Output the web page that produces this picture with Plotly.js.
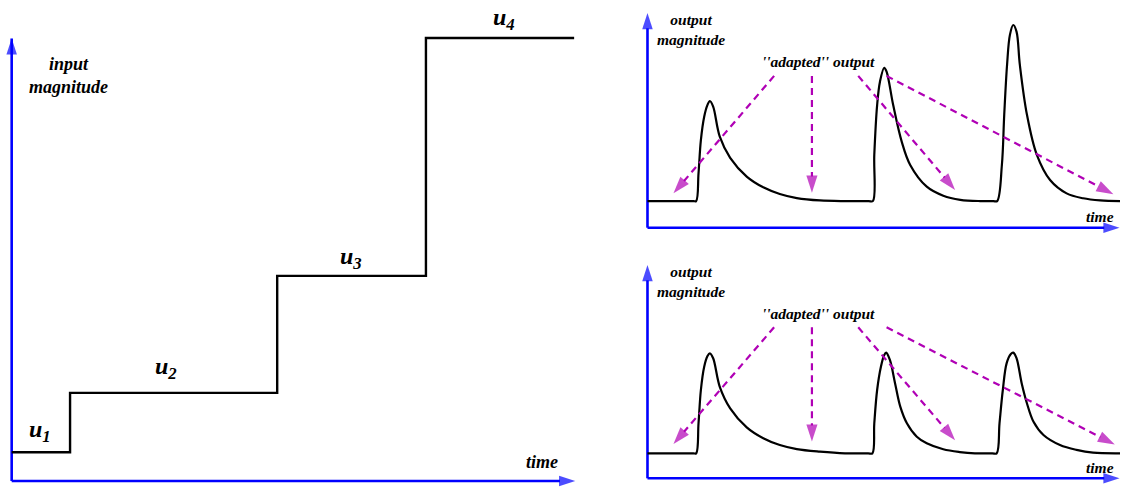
<!DOCTYPE html>
<html>
<head>
<meta charset="utf-8">
<script src="https://cdn.plot.ly/plotly-3.0.1.min.js"></script>
<style>html,body{margin:0;padding:0;background:#fff;}#chart{width:1121px;height:487px;}</style>
</head>
<body>
<div id="chart"></div>
<script>
// ---------- data ----------
// Left panel: step input
const stepTimes  = [0, 1.04, 4.73, 7.38, 10.02];
const stepLevels = [0.65, 1.99, 4.63, 10.0, 10.0];
const stepNames  = ['1', '2', '3', '4'];

// Top-right panel: non-adapted output (peaks grow with step size)
const topTime = [0, 0.97, 1.03, 1.08, 1.13, 1.20, 1.27, 1.32, 1.39, 1.53, 1.75, 2.10, 2.45, 2.80, 3.16, 3.65, 4.18,
  4.68, 4.77, 4.80, 4.86, 4.92, 5.01, 5.06, 5.20, 5.38, 5.56, 5.91, 6.26, 6.62, 7.04,
  7.32, 7.40, 7.50, 7.55, 7.61, 7.67, 7.74, 7.81, 7.88, 8.03, 8.24, 8.52, 8.87, 9.22, 9.58, 10.0];
const topOutput = [1.24, 1.24, 1.24, 2.53, 4.08, 5.17, 5.72, 5.90, 5.64, 4.24, 3.25, 2.38, 1.88, 1.57, 1.38, 1.27, 1.24,
  1.24, 1.24, 3.39, 5.71, 6.80, 7.45, 7.27, 5.71, 4.01, 2.92, 1.91, 1.49, 1.30, 1.24,
  1.24, 1.24, 2.92, 5.27, 7.59, 8.98, 9.44, 9.13, 7.59, 5.27, 3.39, 2.22, 1.60, 1.37, 1.27, 1.24];

// Bottom-right panel: output with equal peaks
const bottomTime = [0, 0.97, 1.03, 1.08, 1.13, 1.20, 1.27, 1.32, 1.39, 1.53, 1.75, 2.10, 2.45, 2.80, 3.16, 3.65, 4.18,
  4.67, 4.76, 4.80, 4.86, 4.94, 5.01, 5.05, 5.13, 5.24, 5.35, 5.49, 5.70, 5.91, 6.26, 6.61, 6.93,
  7.30, 7.39, 7.45, 7.52, 7.60, 7.69, 7.74, 7.81, 7.92, 8.03, 8.17, 8.38, 8.73, 9.08, 9.43, 10.0];
const bottomOutput = [1.17, 1.17, 1.17, 2.58, 4.14, 5.23, 5.73, 5.86, 5.63, 4.29, 3.28, 2.39, 1.88, 1.56, 1.37, 1.25, 1.17,
  1.17, 1.17, 2.58, 4.14, 5.23, 5.78, 5.89, 5.55, 4.45, 3.36, 2.58, 1.95, 1.64, 1.36, 1.23, 1.17,
  1.17, 1.17, 2.58, 4.14, 5.39, 5.83, 5.89, 5.63, 4.45, 3.52, 2.65, 2.03, 1.56, 1.33, 1.20, 1.17];

// "adapted" output pointer arrows (start -> end)
const topArrowStartT = [2.68, 3.48, 4.46, 5.06];
const topArrowStartM = [7.07, 7.07, 7.07, 7.07];
const topArrowEndT   = [0.55, 3.48, 6.51, 9.86];
const topArrowEndM   = [1.60, 1.63, 1.76, 1.56];
const botArrowStartT = [2.68, 3.48, 4.46, 5.06];
const botArrowStartM = [7.08, 7.08, 7.08, 7.08];
const botArrowEndT   = [0.55, 3.48, 6.51, 9.89];
const botArrowEndM   = [1.61, 1.72, 1.78, 1.58];

// axis extents (arrow tips)
const leftAxisEnd = {t: 10.04, m: 9.99};
const rightAxisEnd = {t: 9.99, m: 10.0};

// ---------- styles ----------
const BLUE = '#0000ff';
const MAG = '#b000b5';
const SERIF = "'Liberation Serif', 'Times New Roman', Times, serif";

const traces = [];

function axisArrows(xa, ya, tEnd, mEnd) {
  const mk = {symbol: 'arrow', size: [0, 17], angleref: 'previous', color: BLUE, line: {width: 0}};
  traces.push({x: [0, 0], y: [0, mEnd], xaxis: xa, yaxis: ya, mode: 'lines+markers',
    line: {color: BLUE, width: 2.6}, marker: mk, hoverinfo: 'skip', cliponaxis: false});
  traces.push({x: [0, tEnd], y: [0, 0], xaxis: xa, yaxis: ya, mode: 'lines+markers',
    line: {color: BLUE, width: 2.6}, marker: mk, hoverinfo: 'skip', cliponaxis: false});
}

// left panel
axisArrows('x', 'y', leftAxisEnd.t, leftAxisEnd.m);
traces.push({x: stepTimes, y: stepLevels, xaxis: 'x', yaxis: 'y', mode: 'lines',
  line: {color: '#000', width: 2.4, shape: 'hv'}, hoverinfo: 'skip'});

function pointer(xa, ya, t0, m0, t1, m1) {
  traces.push({x: [t0, t1], y: [m0, m1], xaxis: xa, yaxis: ya, mode: 'lines+markers',
    line: {color: MAG, width: 2.2, dash: '7px,5px'},
    marker: {symbol: 'arrow', size: [0, 18], angleref: 'previous', color: MAG, line: {width: 0}},
    hoverinfo: 'skip', cliponaxis: false});
}

// top right
axisArrows('x2', 'y2', rightAxisEnd.t, rightAxisEnd.m);
traces.push({x: topTime, y: topOutput, xaxis: 'x2', yaxis: 'y2', mode: 'lines',
  line: {color: '#000', width: 2.2, shape: 'spline', smoothing: 1}, hoverinfo: 'skip'});
for (let i = 0; i < topArrowStartT.length; i++) {
  pointer('x2', 'y2', topArrowStartT[i], topArrowStartM[i], topArrowEndT[i], topArrowEndM[i]);
}

// bottom right
axisArrows('x3', 'y3', rightAxisEnd.t, rightAxisEnd.m);
traces.push({x: bottomTime, y: bottomOutput, xaxis: 'x3', yaxis: 'y3', mode: 'lines',
  line: {color: '#000', width: 2.2, shape: 'spline', smoothing: 1}, hoverinfo: 'skip'});
for (let i = 0; i < botArrowStartT.length; i++) {
  pointer('x3', 'y3', botArrowStartT[i], botArrowStartM[i], botArrowEndT[i], botArrowEndM[i]);
}

function label(text, x, y, xref, yref, size) {
  return {text: '<b><i>' + text + '</i></b>', x: x, y: y, xref: xref, yref: yref,
    showarrow: false, xanchor: 'center', yanchor: 'middle',
    font: {family: SERIF, size: size, color: '#000'}};
}

const uPos = [[0.50, 1.13], [2.75, 2.55], [6.04, 5.03], [8.77, 10.42]];
const annotations = [
  label('input<br>magnitude', 1.02, 9.16, 'x', 'y', 18),
  label('time', 9.45, 0.43, 'x', 'y', 18),
  label('output<br>magnitude', 0.92, 9.25, 'x2', 'y2', 15.5),
  label("''adapted'' output", 3.61, 7.73, 'x2', 'y2', 15.5),
  label('time', 9.58, 0.54, 'x2', 'y2', 15.5),
  label('output<br>magnitude', 0.92, 9.25, 'x3', 'y3', 15.5),
  label("''adapted'' output", 3.61, 7.74, 'x3', 'y3', 15.5),
  label('time', 9.58, 0.50, 'x3', 'y3', 15.5)
];
stepNames.forEach((n, i) => {
  annotations.push(label('u<sub>' + n + '</sub>', uPos[i][0], uPos[i][1], 'x', 'y', 24));
});

const hidden = {visible: false, showgrid: false, zeroline: false, fixedrange: true};
const layout = {
  width: 1121, height: 487,
  margin: {l: 0, r: 0, t: 0, b: 0},
  paper_bgcolor: '#fff', plot_bgcolor: 'rgba(0,0,0,0)',
  showlegend: false,
  xaxis:  Object.assign({}, hidden, {domain: [0, 0.5352], range: [-0.208, 10.48]}),
  yaxis:  Object.assign({}, hidden, {domain: [0, 1], range: [-0.135, 10.858]}),
  xaxis2: Object.assign({}, hidden, {domain: [0.562, 1], range: [-0.370, 10.021], anchor: 'y2'}),
  yaxis2: Object.assign({}, hidden, {domain: [0.501, 1], range: [-0.713, 10.605], anchor: 'x2'}),
  xaxis3: Object.assign({}, hidden, {domain: [0.562, 1], range: [-0.370, 10.021], anchor: 'y3'}),
  yaxis3: Object.assign({}, hidden, {domain: [0, 0.4969], range: [-0.408, 10.938], anchor: 'x3'}),
  annotations: annotations
};

Plotly.newPlot('chart', traces, layout, {displayModeBar: false, staticPlot: true});
</script>
</body>
</html>
